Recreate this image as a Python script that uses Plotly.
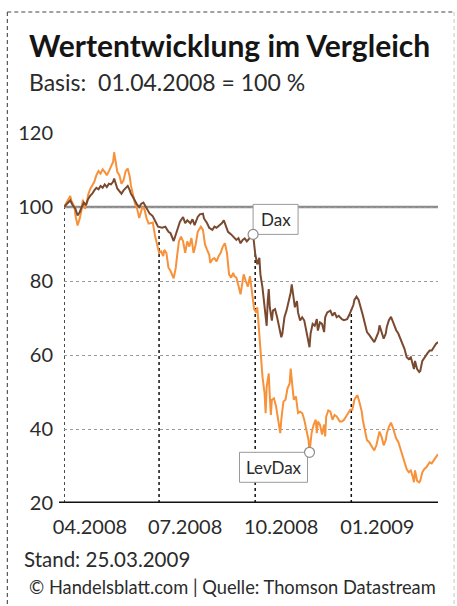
import numpy as np
import pandas as pd
import plotly.graph_objects as go

# ---------------- data ----------------
start_date = "2008-04-01"
end_date = "2009-03-25"

# days since 01.04.2008, values in % (01.04.2008 = 100)
dax_days = [0, 3, 6, 8, 11, 13, 15, 17, 19, 21, 23, 25, 27, 29, 31, 33, 35, 37, 39, 41, 43, 45, 47, 48, 50,
            51, 53, 55, 57, 59, 61, 63, 64, 66, 68, 70, 72, 74, 76, 78, 80, 82, 84, 85, 88, 90, 94, 97, 100,
            102, 105, 108, 111, 114, 116, 118, 121, 123, 125, 128, 130, 133, 134, 137, 139, 142, 144, 146,
            149, 151, 153, 155, 157, 160, 162, 165, 167, 169, 171, 173, 175, 178, 181, 183, 185, 187, 188,
            190, 192, 194, 195, 196, 197, 199, 200, 202, 204, 206, 208, 209, 211, 213, 215, 217, 218, 220,
            221, 223, 224, 226, 228, 230, 232, 234, 235, 236, 238, 240, 242, 243, 245, 247, 249, 250, 252,
            255, 257, 259, 261, 263, 266, 268, 271, 273, 275, 277, 278, 280, 282, 284, 286, 288, 290, 292,
            294, 295, 297, 299, 301, 302, 304, 306, 308, 309, 311, 313, 315, 317, 318, 320, 322, 324, 326,
            328, 330, 332, 334, 335, 336, 338, 340, 341, 343, 345, 347, 348, 350, 352, 354, 356, 358]
dax_vals = [100, 100.9, 101.8, 100.6, 99.5, 97.7, 98.6, 100, 101.2, 100.5, 102.1, 103, 103.6, 104.5, 105.2,
            104.8, 105.7, 105.2, 106.1, 105.4, 106.3, 106.1, 106.8, 107.7, 106.1, 105, 104.3, 103.6, 104.5,
            105.2, 105.7, 104.5, 103.6, 102.7, 101.4, 100.6, 100, 100.9, 101.2, 100.3, 99.1, 98.2, 97.8,
            97.5, 95.8, 94.7, 94.4, 94.7, 93.3, 92.9, 90.8, 93.3, 96, 97.3, 95.6, 96.4, 95.6, 96.7, 95.1,
            97.3, 98, 98.2, 96.9, 95.6, 94.4, 93.8, 94.7, 94.4, 95.1, 95.6, 96.4, 95.1, 93.3, 92.6, 92,
            91.1, 91.6, 90.2, 91.1, 91.5, 90.7, 91.6, 92.6, 87.4, 84.5, 86.3, 81.8, 78.2, 72.9, 67.9, 74.6,
            77.8, 72.9, 69.3, 72, 72.4, 70.2, 67.5, 64.8, 65.7, 70.2, 72, 74.2, 76.9, 79.1, 75.5, 72.9,
            74.6, 71.5, 69.3, 70.2, 69.3, 66.6, 64.4, 62.1, 65.7, 68.4, 67.9, 69.7, 66.6, 68.8, 68.4, 66.2,
            70.2, 71.5, 72, 70.6, 71.5, 70.2, 70.6, 69.7, 69.4, 69.7, 70.8, 72.3, 73.5, 74.9, 75.8, 74.9,
            73.1, 70.8, 68.5, 66.2, 65.5, 64.6, 64.2, 63.5, 64.8, 66.2, 68, 66.2, 64.4, 65.8, 67.6, 69.4,
            70.3, 68.9, 67.3, 66.7, 65.8, 64.4, 63, 61.6, 59.4, 58.9, 59.4, 57.5, 56.2, 58.4, 56.2, 55.4,
            55.7, 58.4, 59.4, 60, 60.5, 61.2, 61.2, 62.1, 63, 63.5]

lev_days = [0, 3, 6, 7, 10, 11, 13, 15, 17, 18, 20, 22, 23, 25, 27, 29, 31, 33, 35, 37, 39, 41, 43, 45, 47,
            48, 50, 51, 53, 55, 57, 59, 61, 63, 64, 66, 68, 70, 72, 74, 75, 77, 79, 81, 83, 85, 87, 89, 91,
            93, 95, 96, 98, 100, 102, 105, 107, 108, 110, 112, 114, 116, 118, 120, 122, 124, 126, 128, 130,
            131, 133, 135, 137, 139, 140, 142, 144, 146, 148, 150, 152, 154, 156, 158, 160, 162, 163, 165,
            167, 169, 170, 172, 174, 176, 178, 180, 182, 184, 185, 186, 188, 189, 190, 192, 193, 194, 196,
            197, 198, 199, 201, 203, 205, 207, 208, 210, 212, 214, 216, 217, 219, 220, 222, 224, 226, 228,
            230, 232, 234, 235, 237, 239, 241, 242, 243, 245, 247, 249, 250, 251, 253, 255, 257, 259, 261,
            263, 264, 266, 268, 270, 272, 274, 276, 278, 280, 281, 283, 285, 286, 288, 290, 292, 294, 295,
            297, 299, 301, 302, 304, 306, 308, 309, 311, 313, 315, 317, 318, 320, 322, 324, 326, 328, 330,
            332, 334, 335, 336, 338, 340, 341, 343, 345, 347, 348, 350, 352, 354, 356, 358]
lev_vals = [100, 101.4, 103, 101.8, 100, 97.7, 95, 96.8, 99.5, 102, 99.5, 101.4, 103.2, 104.8, 106, 106.8,
            108.6, 109.7, 109, 110.2, 109.5, 108.6, 109.7, 111.1, 112.2, 114.8, 111.5, 109.5, 108.6, 106.3,
            107.2, 109.7, 110.4, 108.1, 105.9, 103.6, 100.9, 99.5, 97, 99, 100, 99.4, 97, 95.5, 95.6, 95.8,
            92.4, 89.8, 87.6, 88, 86.7, 88.4, 87.6, 83.6, 82.7, 80.7, 83.6, 86.2, 90.7, 92, 90.7, 87.6, 90.7,
            89.3, 91.6, 87.6, 89.8, 93.3, 94.2, 94.7, 93.8, 89.8, 88.4, 87.1, 84.9, 85.8, 86.2, 85.3, 86.7,
            87.6, 89.3, 90.2, 87.6, 81.8, 80.9, 82.2, 81.3, 80.9, 78.7, 76.4, 78.2, 81.8, 80, 78.5, 81.3,
            77.3, 72.4, 71.5, 72.9, 69.3, 61.3, 58.6, 54.1, 49.6, 44.3, 51.4, 55, 48.8, 43.8, 47.9, 48.3,
            46.1, 42.5, 38.9, 42.5, 47.4, 47.9, 51, 52.3, 56.3, 50.5, 47.9, 48.8, 44.3, 44.7, 44.3, 42.5,
            39.8, 37.1, 33.7, 38.9, 41.2, 42.5, 38.9, 42, 41.2, 38.5, 41.2, 38, 43.4, 45, 44.7, 42.5, 43.8,
            43.4, 42.5, 42, 42, 42.5, 43.4, 44.3, 45.2, 45.2, 47.9, 48.9, 49, 47, 44.7, 42.5, 39.7, 37,
            36.5, 35.6, 35.2, 34.2, 35.6, 37.9, 39.3, 37.9, 35.6, 37, 38.8, 40.6, 41.7, 40.2, 38.4, 37.4,
            36.5, 34.7, 33.3, 31.5, 29.2, 28.3, 28.8, 26.9, 25.6, 28.8, 26, 25.6, 26, 28.3, 29.2, 29.7,
            30.1, 31, 30.7, 31.5, 32.4, 33.2]

tick_dates = ["2008-04-01", "2008-07-01", "2008-10-01", "2009-01-01"]
tick_labels = ["04.2008", "07.2008", "10.2008", "01.2009"]
y_ticks = [20, 40, 60, 80, 100, 120]
base_value = 100

series_names = ["Dax", "LevDax"]
dax_label_day = 181
lev_label_day = 235

title_text = "<b>Wertentwicklung im Vergleich</b>"
subtitle_text = "Basis:  01.04.2008 = 100 %"
stand_text = "Stand: 25.03.2009"
source_text = "© Handelsblatt.com | Quelle: Thomson Datastream"

# ---------------- styling ----------------
DAX_C = "#7a4a30"
LEV_C = "#f7923a"
TXT = "#2b2b2b"
FONT = "Lato"

base = pd.Timestamp(start_date)
to_dates = lambda d: base + pd.to_timedelta(np.asarray(d, dtype=float), unit="D")
dax_x = to_dates(dax_days)
lev_x = to_dates(lev_days)

fig = go.Figure()
fig.add_trace(go.Scatter(x=lev_x, y=lev_vals, mode="lines", name=series_names[1],
                         line=dict(color=LEV_C, width=2), hoverinfo="skip"))
fig.add_trace(go.Scatter(x=dax_x, y=dax_vals, mode="lines", name=series_names[0],
                         line=dict(color=DAX_C, width=2), hoverinfo="skip"))

shapes = []
# base line at 100
shapes.append(dict(type="line", xref="paper", x0=0, x1=1, yref="y", y0=base_value, y1=base_value,
                   line=dict(color="#8c8c8c", width=2.5), layer="below"))
# vertical dotted lines from axis up to the Dax line
for td in tick_dates:
    dd = (pd.Timestamp(td) - base).days
    top = float(np.interp(dd, dax_days, dax_vals))
    shapes.append(dict(type="line", xref="x", x0=td, x1=td, yref="y", y0=y_ticks[0], y1=top,
                       line=dict(color="#111111", width=1.5, dash="dot"), layer="below"))
# x axis baseline
shapes.append(dict(type="line", xref="paper", x0=-0.0134, x1=1, yref="y", y0=y_ticks[0], y1=y_ticks[0],
                   line=dict(color="#111111", width=3), layer="above"))


# label boxes + circles
def label_box(day, xs, vals, x0, x1, y0, y1):
    d = (base + pd.Timedelta(days=day)).strftime("%Y-%m-%d")
    v = float(np.interp(day, xs, vals))
    shapes.append(dict(type="rect", xref="x", yref="y", xsizemode="pixel", ysizemode="pixel",
                       xanchor=d, yanchor=v, x0=x0, x1=x1, y0=y0, y1=y1,
                       line=dict(color="#9a9a9a", width=1), fillcolor="white", layer="above"))
    shapes.append(dict(type="circle", xref="x", yref="y", xsizemode="pixel", ysizemode="pixel",
                       xanchor=d, yanchor=v, x0=-5, x1=5, y0=-5, y1=5,
                       line=dict(color="#8c8c8c", width=1.2), fillcolor="white", layer="above"))
    return d, v


dax_pt = label_box(dax_label_day, dax_days, dax_vals, 0, 45, 0, 30)
lev_pt = label_box(lev_label_day, lev_days, lev_vals, -70, -2, 0, -30)

# outer dashed frame
shapes.append(dict(type="line", xref="paper", yref="paper", x0=-0.1516, x1=-0.1516, y0=1.327, y1=-0.3,
                   line=dict(color="#333333", width=1, dash="4px,3px")))
shapes.append(dict(type="line", xref="paper", yref="paper", x0=-0.1516, x1=1.043, y0=1.327, y1=1.327,
                   line=dict(color="#444444", width=1, dash="4px,3px")))
shapes.append(dict(type="line", xref="paper", yref="paper", x0=1.043, x1=1.043, y0=1.327, y1=-0.3,
                   line=dict(color="#c8c8c8", width=1, dash="4px,3px")))

annotations = [
    dict(text=series_names[0], x=dax_pt[0], y=dax_pt[1], xref="x", yref="y", showarrow=False,
         xanchor="center", yanchor="middle", xshift=23, yshift=15,
         font=dict(family=FONT, size=17, color=TXT)),
    dict(text=series_names[1], x=lev_pt[0], y=lev_pt[1], xref="x", yref="y", showarrow=False,
         xanchor="center", yanchor="middle", xshift=-36, yshift=-15,
         font=dict(family=FONT, size=17, color=TXT)),
    dict(text=title_text, xref="paper", yref="paper", x=-0.099, y=1.237, xanchor="left", yanchor="middle",
         showarrow=False, font=dict(family=FONT, size=30, color="#151515")),
    dict(text=subtitle_text, xref="paper", yref="paper", x=-0.099, y=1.138, xanchor="left", yanchor="middle",
         showarrow=False, font=dict(family=FONT, size=23, color=TXT)),
    dict(text=stand_text, xref="paper", yref="paper", x=-0.112, y=-0.152, xanchor="left", yanchor="middle",
         showarrow=False, font=dict(family=FONT, size=20.5, color=TXT)),
    dict(text=source_text, xref="paper", yref="paper", x=0.999, y=-0.228, xanchor="right", yanchor="middle",
         showarrow=False, font=dict(family=FONT, size=18.3, color=TXT)),
]

fig.update_layout(
    width=457, height=606,
    margin=dict(l=64, r=19, t=133, b=103, pad=0),
    paper_bgcolor="white", plot_bgcolor="white", showlegend=False,
    shapes=shapes, annotations=annotations,
    xaxis=dict(type="date", range=[start_date, end_date], tickvals=tick_dates, ticktext=tick_labels,
               showgrid=False, zeroline=False, showline=False, ticks="",
               tickfont=dict(family=FONT, size=20, color=TXT), ticklabelshift=26, ticklabelstandoff=10,
               fixedrange=True),
    yaxis=dict(range=[y_ticks[0], y_ticks[-1]], tickvals=y_ticks, showgrid=True, gridcolor="#9a9a9a",
               griddash="3px,3px", gridwidth=1, zeroline=False, showline=False, ticks="",
               tickfont=dict(family=FONT, size=20, color=TXT), ticklabelstandoff=10, fixedrange=True),
)

fig.write_html("out.html", config={"displayModeBar": False},
               post_script="document.body.style.margin='0';document.body.style.overflow='hidden';")
